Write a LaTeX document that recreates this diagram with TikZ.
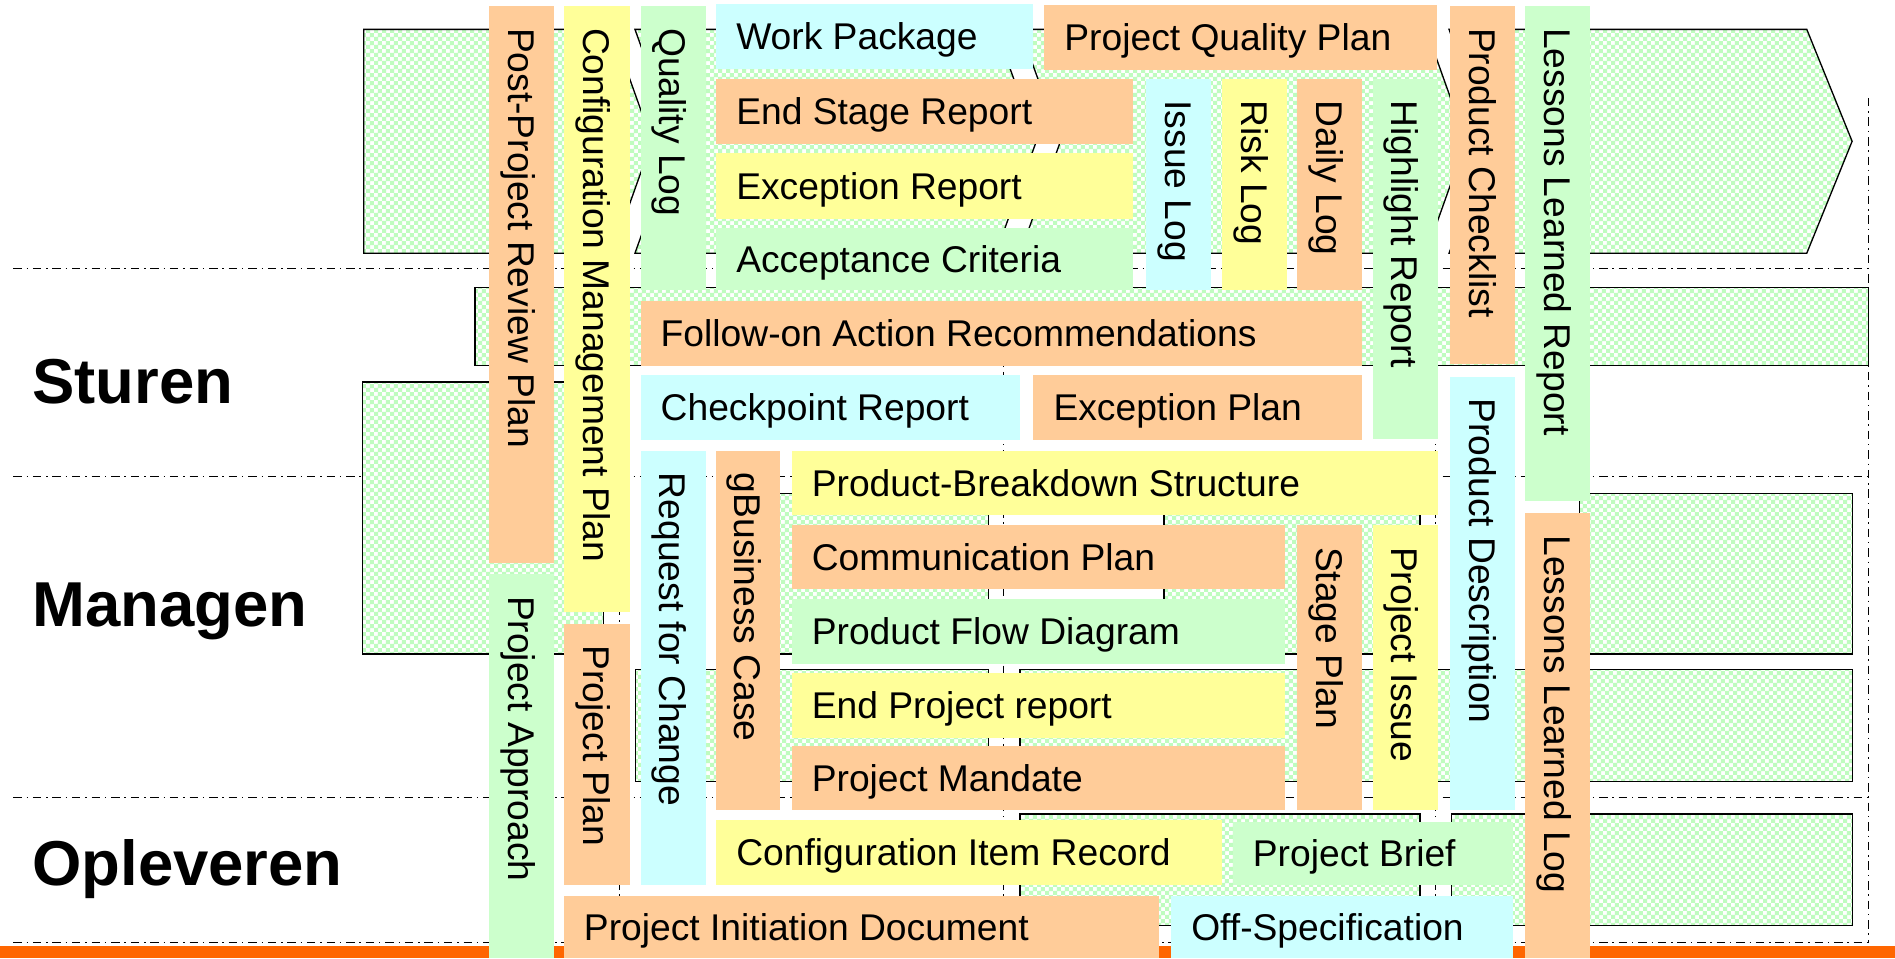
\documentclass[tikz,border=0pt]{standalone}
\usepackage{fontspec}
\setmainfont{Liberation Sans}
\usetikzlibrary{patterns}
\definecolor{peach}{HTML}{FFCC99}
\definecolor{lyellow}{HTML}{FFFF99}
\definecolor{lgreen}{HTML}{CCFFCC}
\definecolor{lcyan}{HTML}{CCFFFF}
\definecolor{barorange}{HTML}{FF6600}
\definecolor{chk}{HTML}{BFFCBF}
\pgfdeclarepatternformonly{greencheck}{\pgfpointorigin}{\pgfqpoint{6.6pt}{6.6pt}}{\pgfqpoint{6.6pt}{6.6pt}}{%
  \pgfpathrectangle{\pgfpointorigin}{\pgfqpoint{3.4pt}{3.4pt}}%
  \pgfpathrectangle{\pgfqpoint{3.3pt}{3.3pt}}{\pgfqpoint{3.4pt}{3.4pt}}%
  \pgfusepath{fill}}
\tikzset{
  bgshape/.style={draw=black, line width=1.1pt, preaction={fill=white}, pattern=greencheck, pattern color=chk},
  laneline/.style={draw=black, line width=0.8pt, dash pattern=on 7pt off 4pt on 1.2pt off 4pt},
  boxshape/.style={rectangle, draw=none, inner sep=0pt, outer sep=0pt, anchor=north west},
  htext/.style={font=\fontsize{30.8}{30.8}\selectfont, inner sep=0pt, anchor=base west},
  vtext/.style={htext, rotate=-90},
  lanetitle/.style={font=\fontsize{52.5}{52.5}\selectfont\bfseries, inner sep=0pt, anchor=base west},
}
% name, x1, y1, x2, y2, colour, text
\newcommand{\HLbl}[7]{%
  \node[boxshape, fill=#6, minimum width={#4pt-#2pt}, minimum height={#5pt-#3pt}] (#1) at (#2,#3) {};
  \node[htext] (#1-t) at ([xshift=16.5pt,yshift=-11pt]#1.west) {#7};
}
\newcommand{\VLbl}[7]{%
  \node[boxshape, fill=#6, minimum width={#4pt-#2pt}, minimum height={#5pt-#3pt}] (#1) at (#2,#3) {};
  \node[vtext] (#1-t) at ([xshift=-11pt,yshift=-18pt]#1.north) {#7};
}
\begin{document}
\begin{tikzpicture}[x=1pt,y=-1pt]
\useasboundingbox (0,0) rectangle (1568,793);
\fill[white] (0,0) rectangle (1568,793);
% lane separators
\foreach \yy in {222.5,394.5,660,780} \draw[laneline] (11,\yy) -- (1546,\yy);
\foreach \xx in {512.5,830,1188,1546} \draw[laneline] (\xx,81) -- (\xx,780);
% orange bar
\fill[barorange] (0,783) rectangle (1568,793);
% background process model
\draw[bgshape] (301,24.3) -- (506.4,24.3) -- (539.5,116.9) -- (506.4,209.5) -- (301,209.5) -- cycle;
\draw[bgshape] (525.4,24.3) -- (824,24.3) -- (857.5,116.9) -- (824,209.5) -- (525.4,209.5) -- (558.5,116.9) -- cycle;
\draw[bgshape] (844,24.3) -- (1180,24.3) -- (1213,116.9) -- (1180,209.5) -- (844,209.5) -- (877.5,116.9) -- cycle;
\draw[bgshape] (1199,24.3) -- (1495,24.3) -- (1532.5,116.9) -- (1495,209.5) -- (1199,209.5) -- (1232,116.9) -- cycle;
\draw[bgshape] (393,238) rectangle (1546,302.6);
\draw[bgshape] (300,316) rectangle (499.5,541);
\draw[bgshape] (615,408.5) rectangle (818,541);
\draw[bgshape] (963,408.5) rectangle (1175,541);
\draw[bgshape] (1307,408.5) rectangle (1533,541);
\draw[bgshape] (526,554) rectangle (818,646.5);
\draw[bgshape] (844,554) rectangle (1533,646.5);
\draw[bgshape] (844,673.5) rectangle (1175,766);
\draw[bgshape] (1201,673.5) rectangle (1533,766);
% lane titles
\node[lanetitle] (sturen) at (26.5,334) {Sturen};
\node[lanetitle] (managen) at (26.5,518.6) {Managen};
\node[lanetitle] (opleveren) at (26.5,732.5) {Opleveren};
% document labels
\VLbl{pprp}{405}{5}{458}{465.6}{peach}{Post-Project Review Plan}
\VLbl{cmp}{467}{5}{521}{506}{lyellow}{Configuration Management Plan}
\VLbl{ql}{530}{5}{584}{240}{lgreen}{Quality Log}
\HLbl{wp}{592.5}{3.3}{855}{57}{lcyan}{Work Package}
\HLbl{pqp}{864}{4}{1189}{58}{peach}{Project Quality Plan}
\HLbl{esr}{592.5}{65}{937.5}{119}{peach}{End Stage Report}
\HLbl{er}{592.5}{127}{937.5}{181}{lyellow}{Exception Report}
\HLbl{ac}{592.5}{188.5}{937.5}{240}{lgreen}{Acceptance Criteria}
\VLbl{il}{948}{65}{1002}{240}{lcyan}{Issue Log}
\VLbl{rl}{1011}{65}{1065}{240}{lyellow}{Risk Log}
\VLbl{dl}{1073}{65}{1127}{240}{peach}{Daily Log}
\VLbl{hr}{1136}{65}{1189.5}{363}{lgreen}{Highlight Report}
\VLbl{pc}{1200}{5}{1253.5}{301}{peach}{Product Checklist}
\VLbl{llr}{1262}{5}{1315.5}{414.6}{lgreen}{Lessons Learned Report}
\HLbl{foar}{530}{249}{1127}{303}{peach}{Follow-on Action Recommendations}
\HLbl{cr}{530}{310.5}{844}{364}{lcyan}{Checkpoint Report}
\HLbl{ep}{855}{310.5}{1127}{364}{peach}{Exception Plan}
\VLbl{pd}{1200}{311.7}{1253.5}{670}{lcyan}{Product Description}
\VLbl{lll}{1262}{424.8}{1315.5}{793}{peach}{Lessons Learned Log}
\VLbl{pa}{405}{475}{458}{793}{lgreen}{Project Approach}
\VLbl{pp}{467}{516}{521}{732}{peach}{Project Plan}
\VLbl{rfc}{530}{373}{584}{732}{lcyan}{Request for Change}
\VLbl{gbc}{592.5}{373}{645.6}{670}{peach}{gBusiness Case}
\HLbl{pbs}{655}{373}{1189.5}{426}{lyellow}{Product-Breakdown Structure}
\HLbl{cp}{655}{434.5}{1063}{487.5}{peach}{Communication Plan}
\HLbl{pfd}{655}{496}{1063}{549}{lgreen}{Product Flow Diagram}
\HLbl{epr}{655}{557}{1063}{610.7}{lyellow}{End Project report}
\HLbl{pm}{655}{617}{1063}{670}{peach}{Project Mandate}
\VLbl{sp}{1073}{434.5}{1127}{670}{peach}{Stage Plan}
\VLbl{pi}{1136}{434.5}{1189.5}{670}{lyellow}{Project Issue}
\HLbl{cir}{592.5}{678.5}{1011}{732}{lyellow}{Configuration Item Record}
\HLbl{pb}{1020}{680}{1251.6}{732}{lgreen}{Project Brief}
\HLbl{pid}{466.5}{741.5}{959}{793}{peach}{Project Initiation Document}
\HLbl{os}{969}{741.5}{1251.6}{793}{lcyan}{Off-Specification}
\end{tikzpicture}
\end{document}
